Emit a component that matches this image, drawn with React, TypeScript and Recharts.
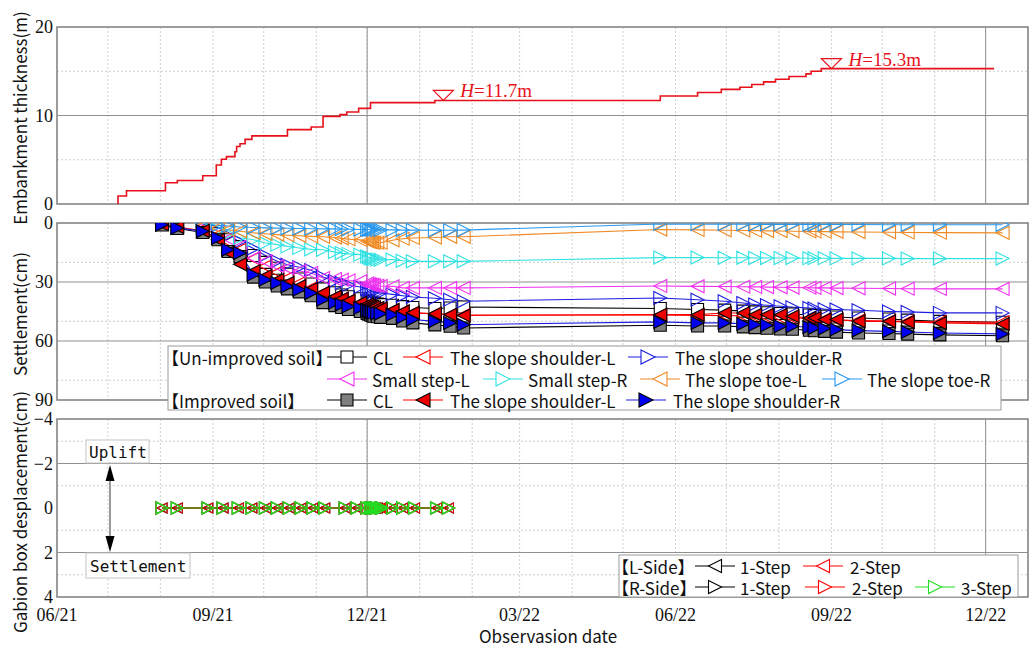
import React from "react";
import {
  LineChart,
  Line,
  XAxis,
  YAxis,
  CartesianGrid,
  ReferenceLine,
  ReferenceArea,
  ReferenceDot,
} from "recharts";

const ORIGIN = Date.UTC(2021, 5, 1);
const toDay = (s: string) => (Date.parse(s) - ORIGIN) / 86400000;
const X_MAX = 573;

const monthStarts = [
  "2021-07-01", "2021-08-01", "2021-09-01", "2021-10-01", "2021-11-01", "2021-12-01",
  "2022-01-01", "2022-02-01", "2022-03-01", "2022-04-01", "2022-05-01", "2022-06-01",
  "2022-07-01", "2022-08-01", "2022-09-01", "2022-10-01", "2022-11-01", "2022-12-01",
];
const yearLines = ["2021-12-01", "2022-12-01"];
const xTickDates = ["2021-06-01", "2021-09-01", "2021-12-01", "2022-03-01", "2022-06-01", "2022-09-01", "2022-12-01"];
const xTickLabels = ["06/21", "09/21", "12/21", "03/22", "06/22", "09/22", "12/22"];

// embankment thickness (m)
const fillDates = [
  "2021-07-07", "2021-07-07", "2021-07-12", "2021-08-04", "2021-08-11", "2021-08-26", "2021-09-03",
  "2021-09-06", "2021-09-09", "2021-09-14", "2021-09-15", "2021-09-17", "2021-09-20", "2021-09-24",
  "2021-10-15", "2021-10-29", "2021-11-05", "2021-11-15", "2021-11-19", "2021-11-26", "2021-12-03",
  "2022-01-10", "2022-05-23", "2022-06-14", "2022-06-28", "2022-07-09", "2022-07-16", "2022-07-23",
  "2022-07-30", "2022-08-07", "2022-08-17", "2022-08-20", "2022-08-26", "2022-12-06",
];
const fillHeights = [
  0, 0.9, 1.5, 2.4, 2.65, 3.2, 4.4, 5.05, 5.35, 5.9, 6.5, 6.8, 7.3, 7.7, 8.4, 8.7, 9.9, 10.1, 10.4,
  10.8, 11.45, 11.7, 12.2, 12.6, 12.95, 13.2, 13.5, 13.8, 14.1, 14.4, 14.7, 15.0, 15.3, 15.3,
];
const fillMarks = [
  { date: "2022-01-15", h: 11.7 },
  { date: "2022-09-01", h: 15.3 },
];

// settlement (cm)
const obsDates = [
  "2021-08-02", "2021-08-11", "2021-08-26", "2021-09-04", "2021-09-10", "2021-09-17", "2021-09-25",
  "2021-10-02", "2021-10-09", "2021-10-15", "2021-10-22", "2021-10-29", "2021-11-05", "2021-11-12",
  "2021-11-16", "2021-11-20", "2021-11-27", "2021-12-01", "2021-12-02", "2021-12-03", "2021-12-04",
  "2021-12-05", "2021-12-07", "2021-12-09", "2021-12-16", "2021-12-22", "2021-12-28", "2022-01-10",
  "2022-01-19", "2022-01-27",
  "2022-05-23", "2022-06-14", "2022-06-30", "2022-07-11", "2022-07-18", "2022-07-25", "2022-08-02",
  "2022-08-09", "2022-08-19", "2022-08-22", "2022-08-28", "2022-09-04", "2022-09-17", "2022-10-05",
  "2022-10-16", "2022-11-04", "2022-12-11",
];
const unCL = [
  null, null, 3, 5.5, 8.5, 12, 16.5, 20, 23, 26, 28.5, 31, 33.5, 35.5, 36.6, 37.5, 38.5, 39.5, 40, 40.3,
  40.6, 40.9, 41.2, 41.5, 41.8, 42.5, 43, 43.5, 43.2, 42.7,
  43.5, 44, 44.3, 44.8, 45.2, 45.6, 46, 46.3, 46.8, 47, 47.4, 47.8, 48.3, 48.8, 49.4, 50, 50.5,
];
const unShL = [
  null, null, 3, 6, 9.5, 13.5, 18, 22, 25, 28, 30.5, 33, 35.5, 37.5, 38.5, 39.5, 40.5, 41.5, 42, 42.4,
  42.8, 43.1, 43.4, 43.7, 44.3, 45, 45.6, 46.2, 46.6, 46.8,
  46.8, 47, 47, 47.2, 47.5, 47.7, 48, 48.2, 48.6, 48.8, 49, 49.3, 49.6, 49.9, 50.1, 50.3, 50.5,
];
const unShR = [
  null, null, 2, 4, 6.5, 9.5, 13, 16.5, 19.5, 21.2, 22.5, 24, 27.5, 29.5, 30.5, 31.5, 32.5, 33.5, 34,
  34.4, 34.8, 35.1, 35.4, 35.6, 36.3, 37, 37.6, 38.3, 39, 39.8,
  38.1, 39, 39.8, 40.7, 41.5, 41.8, 42.3, 42.8, 43.2, 43.5, 43.8, 44, 44.4, 45, 45.2, 45.7, 45.7,
];
const unStepL = [
  null, null, 2, 4.5, 8, 12, 17.8, 19.5, 21.9, 22.9, 24.4, 25.4, 28, 28.5, 28.8, 29.2, 29.6, 30.8, 31.1,
  31.3, 31.5, 31.7, 31.9, 32, 32.2, 33, 33, 33, 33, 33,
  32, 32.2, 32.3, 32.4, 32.5, 32.6, 32.7, 32.8, 32.9, 33, 33, 33.1, 33.2, 33.3, 33.4, 33.5, 33.5,
];
const unStepR = [
  null, null, 1.5, 3.5, 5.5, 7.5, 8.5, 10.2, 11, 11.9, 12.7, 13.4, 13.6, 14.8, 15.3, 15.7, 16.1, 17,
  17.4, 17.8, 18.1, 18.4, 18.6, 18.7, 18.6, 19.2, 19.5, 19.5, 19.5, 19.5,
  17.6, 17.6, 17.7, 17.7, 17.8, 17.8, 17.8, 17.8, 17.9, 17.9, 17.9, 18, 18, 18, 18.1, 18.1, 18.1,
];
const unToeL = [
  null, null, 1.5, 2.5, 3.5, 4.2, 5, 5.5, 5.9, 6.2, 6.5, 6.8, 7, 7.4, 7.8, 8.2, 8.6, 9.2, 9.5, 9.7, 9.9,
  10, 10, 10, 8.8, 8, 7.6, 7.4, 7, 7,
  3.3, 3.5, 3.7, 3.8, 3.9, 4, 4.1, 4.2, 4.3, 4.3, 4.4, 4.5, 4.6, 4.7, 4.8, 4.9, 5,
];
const unToeR = [
  null, null, 0.8, 1.2, 1.6, 2, 2.3, 2.5, 2.6, 2.7, 2.8, 2.9, 3, 3, 3.1, 3.2, 3.3, 3.3, 3.3, 3.4, 3.4,
  3.4, 3.5, 3.5, 3.5, 3.6, 3.6, 3.7, 3.7, 3.6,
  0.5, 0.6, 0.6, 0.6, 0.7, 0.7, 0.7, 0.7, 0.8, 0.8, 0.8, 0.8, 0.8, 0.9, 0.9, 0.9, 0.9,
];
const imCL = [
  1, 2.8, 4.8, 8.5, 14.5, 17, 27.5, 30, 32, 33.5, 35, 37, 40.5, 42, 43, 44, 45, 46, 46.4, 46.8, 47.1,
  47.4, 47.7, 48, 48.5, 49.8, 50.8, 51.8, 52.5, 53.4,
  52, 52.4, 52.4, 52.8, 53.2, 53.5, 53.9, 54, 54.5, 54.8, 55.1, 55.5, 55.9, 56.2, 56.5, 56.9, 57.3,
];
const imShL = [
  0.6, 2, 4, 8.5, 15, 21, 24.5, 27, 29, 30.5, 32, 33.5, 35.5, 37.5, 38.5, 39.5, 40.5, 41.5, 42, 42.3,
  42.6, 42.9, 43.2, 43.5, 44.2, 45, 45.6, 46.2, 46.7, 47,
  46.6, 46.6, 45.8, 45.8, 46.6, 46.6, 46.6, 47.4, 48.3, 48.3, 49.1, 49.1, 50, 50, 50.3, 50.8, 51.3,
];
const imShR = [
  0.9, 2.5, 4.2, 7.6, 13.6, 15.3, 26.3, 28.8, 30.5, 32.2, 33.9, 35.6, 39, 40.5, 41.5, 42.4, 43.2, 44.2,
  44.6, 45, 45.3, 45.6, 45.9, 46.2, 46.6, 48, 49.1, 50, 50.8, 51.7,
  50.3, 50.8, 50.8, 51.3, 51.7, 52, 52.5, 52.5, 53, 53.4, 53.7, 54.2, 54.7, 55.1, 55.4, 55.9, 56.4,
];

// gabion box displacement (cm)
const gabionDates = [
  "2021-08-02", "2021-08-11", "2021-08-29", "2021-09-07", "2021-09-16", "2021-09-24", "2021-10-02",
  "2021-10-09", "2021-10-16", "2021-10-23", "2021-10-30", "2021-11-06", "2021-11-18", "2021-11-25",
  "2021-12-01", "2021-12-03", "2021-12-04", "2021-12-05", "2021-12-06", "2021-12-07", "2021-12-09",
  "2021-12-10", "2021-12-16", "2021-12-22", "2021-12-29", "2022-01-11", "2022-01-18",
];
const gbL1 = [0, 0, 0, 0, 0, 0, 0, 0, 0, 0, 0, 0, 0, 0, 0, 0, 0, 0, 0, 0, 0, 0, 0, 0, 0, 0, 0];
const gbL2 = [0, 0, 0, 0, 0, 0, 0, 0, 0, 0, 0, 0, 0, 0, 0, 0, 0, 0, 0, 0, 0, 0, 0, 0, 0, 0, 0];
const gbR1 = [0, 0, 0, 0, 0, 0, 0, 0, 0, 0, 0, 0, 0, 0, 0, 0, 0, 0, 0, 0, 0, 0, 0, 0, 0, 0, 0];
const gbR2 = [0, 0, 0, 0, 0, 0, 0, 0, 0, 0, 0, 0, 0, 0, 0, 0, 0, 0, 0, 0, 0, 0, 0, 0, 0, 0, 0];
const gbR3 = [0, 0, 0, 0, 0, 0, 0, 0, 0, 0, 0, 0, 0, 0, 0, 0, 0, 0, 0, 0, 0, 0, 0, 0, 0, 0, 0];

type Kind = "sq" | "tl" | "tr";
type Series = {
  key: string;
  values: (number | null)[];
  line: string;
  kind: Kind;
  stroke: string;
  fill: string;
  size?: number;
  sw?: number;
};

const settlementSeries: Series[] = [
  { key: "unCL", values: unCL, line: "#000000", kind: "sq", stroke: "#000000", fill: "#ffffff" },
  { key: "unShL", values: unShL, line: "#ff0000", kind: "tl", stroke: "#ff0000", fill: "none" },
  { key: "unShR", values: unShR, line: "#1c1ce0", kind: "tr", stroke: "#1c1ce0", fill: "none" },
  { key: "unStepL", values: unStepL, line: "#f030f0", kind: "tl", stroke: "#f030f0", fill: "none" },
  { key: "unStepR", values: unStepR, line: "#30e2e2", kind: "tr", stroke: "#30e2e2", fill: "none" },
  { key: "unToeL", values: unToeL, line: "#f08a24", kind: "tl", stroke: "#f08a24", fill: "none" },
  { key: "unToeR", values: unToeR, line: "#2898ee", kind: "tr", stroke: "#2898ee", fill: "none" },
  { key: "imCL", values: imCL, line: "#000000", kind: "sq", stroke: "#000000", fill: "#7f7f7f" },
  { key: "imShL", values: imShL, line: "#ff0000", kind: "tl", stroke: "#000000", fill: "#ee0000" },
  { key: "imShR", values: imShR, line: "#1c1ce0", kind: "tr", stroke: "#000000", fill: "#0000ee" },
];

const gabionSeries: Series[] = [
  { key: "L1", values: gbL1, line: "#000000", kind: "tl", stroke: "#000000", fill: "none", size: 5 },
  { key: "R1", values: gbR1, line: "#000000", kind: "tr", stroke: "#000000", fill: "none", size: 6 },
  { key: "L2", values: gbL2, line: "#ff0000", kind: "tl", stroke: "#ff0000", fill: "none", size: 5, sw: 1 },
  { key: "R2", values: gbR2, line: "#ff0000", kind: "tr", stroke: "#ff0000", fill: "none", size: 6 },
  { key: "R3", values: gbR3, line: "#22dd22", kind: "tr", stroke: "#22dd22", fill: "none", size: 6, sw: 1.4 },
];

const fillRows = fillDates.map((d, i) => ({ day: toDay(d), h: fillHeights[i] }));
const settleRows = obsDates.map((d, i) => {
  const row: Record<string, number | null> = { day: toDay(d) };
  settlementSeries.forEach((s) => (row[s.key] = s.values[i]));
  return row;
});
const gabionRows = gabionDates.map((d, i) => {
  const row: Record<string, number | null> = { day: toDay(d) };
  gabionSeries.forEach((s) => (row[s.key] = s.values[i]));
  return row;
});

const monthDays = monthStarts.map(toDay);
const yearDays = yearLines.map(toDay);
const xTickDays = xTickDates.map(toDay);

const W = 1029;
const PAD = 12;
const MARGIN = { top: PAD, right: 1, bottom: PAD, left: 0 };
const GRID_MINOR = "#cfcfcf";
const GRID_MAJOR = "#8f8f8f";
const FRAME = "#7d7d7d";
const SERIF = "'Liberation Serif', 'Times New Roman', serif";
const SANS = "'Noto Sans CJK JP', 'Noto Sans', sans-serif";
const yTick = { fontSize: 18, fontFamily: SERIF, fill: "#111" };

const markerPath = (kind: Kind, cx: number, cy: number, h: number) => {
  if (kind === "sq") return `M${cx - h},${cy - h}H${cx + h}V${cy + h}H${cx - h}Z`;
  if (kind === "tl") return `M${cx + h},${cy - h}L${cx - h},${cy}L${cx + h},${cy + h}Z`;
  return `M${cx - h},${cy - h}L${cx + h},${cy}L${cx - h},${cy + h}Z`;
};

const makeDot = (s: Series, h: number) => (props: any) => {
  const { cx, cy, index, value } = props;
  if (cx == null || cy == null || value == null || Number.isNaN(cy)) {
    return <g key={`${s.key}-e${index}`} />;
  }
  const size = s.size ?? (s.kind === "sq" ? h - 0.5 : h);
  return (
    <path
      key={`${s.key}-m${index}`}
      d={markerPath(s.kind, cx, cy, size)}
      stroke={s.stroke}
      fill={s.fill}
      strokeWidth={s.sw ?? 1.1}
    />
  );
};

const FillMark = (props: any) => {
  const { cx, cy, payload } = props;
  return (
    <g>
      <path d={`M${cx - 10},${cy - 10}H${cx + 10}L${cx},${cy}Z`} fill="none" stroke="#e8101a" strokeWidth={1.2} />
      <text x={cx + 17} y={cy - 3} fill="#e8101a" fontFamily={SERIF} fontSize={19}>
        <tspan fontStyle="italic">H</tspan>={payload}m
      </text>
    </g>
  );
};

const commonGrid = (minorY: number[], majorY: number[]) => [
  <CartesianGrid
    key="g"
    stroke={GRID_MINOR}
    strokeDasharray="2 2"
    verticalValues={monthDays}
    horizontalValues={minorY}
  />,
  ...yearDays.map((d) => <ReferenceLine key={`vx${d}`} x={d} stroke={GRID_MAJOR} strokeWidth={1} />),
  ...majorY.map((v) => <ReferenceLine key={`hy${v}`} y={v} stroke={GRID_MAJOR} strokeWidth={1} />),
];

const legendMarker = (s: Series, mx: number, y: number, h = 7) => (
  <g key={`lm-${s.key}`}>
    <line x1={mx - 20} x2={mx + 20} y1={y} y2={y} stroke={s.line} strokeWidth={1.2} />
    <path d={markerPath(s.kind, mx, y, s.kind === "sq" ? h - 1 : h)} stroke={s.stroke} fill={s.fill === "none" ? "#fff" : s.fill} strokeWidth={1.1} />
  </g>
);

const byKey = (list: Series[], k: string) => list.find((s) => s.key === k) as Series;

const settleLegend = [
  { key: "unCL", label: "CL", mx: 347, tx: 373, y: 357 },
  { key: "unShL", label: "The slope shoulder-L", mx: 423, tx: 450, y: 357 },
  { key: "unShR", label: "The slope shoulder-R", mx: 648, tx: 675, y: 357 },
  { key: "unStepL", label: "Small step-L", mx: 347, tx: 372, y: 379 },
  { key: "unStepR", label: "Small step-R", mx: 503, tx: 528, y: 379 },
  { key: "unToeL", label: "The slope toe-L", mx: 660, tx: 685, y: 379 },
  { key: "unToeR", label: "The slope toe-R", mx: 842, tx: 867, y: 379 },
  { key: "imCL", label: "CL", mx: 347, tx: 373, y: 400 },
  { key: "imShL", label: "The slope shoulder-L", mx: 423, tx: 450, y: 400 },
  { key: "imShR", label: "The slope shoulder-R", mx: 646, tx: 673, y: 400 },
];
const gabionLegend = [
  { key: "L1", label: "1-Step", mx: 715, tx: 740, y: 566 },
  { key: "L2", label: "2-Step", mx: 823, tx: 850, y: 566 },
  { key: "R1", label: "1-Step", mx: 715, tx: 740, y: 587 },
  { key: "R2", label: "2-Step", mx: 825, tx: 852, y: 587 },
  { key: "R3", label: "3-Step", mx: 935, tx: 961, y: 587 },
];

export default function App() {
  return (
    <div style={{ position: "absolute", left: 0, top: 0, width: W, height: 646, background: "#fff", overflow: "hidden" }}>
      {/* embankment thickness */}
      <div style={{ position: "absolute", left: 0, top: 27 - PAD }}>
        <LineChart width={W} height={177 + 2 * PAD} margin={MARGIN} data={fillRows}>
          {commonGrid([5, 15], [10])}
          <XAxis type="number" dataKey="day" domain={[0, X_MAX]} hide allowDataOverflow />
          <YAxis
            type="number"
            domain={[0, 20]}
            ticks={[0, 10, 20]}
            width={57}
            tickLine={false}
            axisLine={false}
            tickSize={0}
            tickMargin={4}
            tick={yTick}
            allowDataOverflow
          />
          <Line type="stepAfter" dataKey="h" stroke="#e8101a" strokeWidth={1.6} dot={false} isAnimationActive={false} />
          <ReferenceArea x1={0} x2={X_MAX} y1={0} y2={20} fill="none" stroke={FRAME} strokeWidth={1.5} />
          {fillMarks.map((m) => (
            <ReferenceDot
              key={m.date}
              x={toDay(m.date)}
              y={m.h}
              ifOverflow="visible"
              shape={(p: any) => <FillMark {...p} payload={m.h} />}
            />
          ))}
        </LineChart>
      </div>

      {/* settlement */}
      <div style={{ position: "absolute", left: 0, top: 223 - PAD }}>
        <LineChart width={W} height={177 + 2 * PAD} margin={MARGIN} data={settleRows}>
          {commonGrid([10, 20, 40, 50, 70, 80], [30, 60])}
          <XAxis type="number" dataKey="day" domain={[0, X_MAX]} hide allowDataOverflow />
          <YAxis
            type="number"
            domain={[0, 90]}
            reversed
            ticks={[0, 30, 60, 90]}
            width={57}
            tickLine={false}
            axisLine={false}
            tickSize={0}
            tickMargin={4}
            tick={yTick}
            allowDataOverflow
          />
          {settlementSeries.map((s) => (
            <Line
              key={s.key}
              type="linear"
              dataKey={s.key}
              stroke={s.line}
              strokeWidth={1.1}
              dot={makeDot(s, 6.5)}
              activeDot={false}
              isAnimationActive={false}
            />
          ))}
          <ReferenceArea x1={0} x2={X_MAX} y1={0} y2={90} fill="none" stroke={FRAME} strokeWidth={1.5} />
        </LineChart>
      </div>

      {/* gabion box displacement */}
      <div style={{ position: "absolute", left: 0, top: 419 - PAD }}>
        <LineChart width={W} height={178 + PAD + 30} margin={{ ...MARGIN, bottom: 0 }} data={gabionRows}>
          {commonGrid([-3, -1, 0, 1, 3], [-2, 2])}
          <XAxis
            type="number"
            dataKey="day"
            domain={[0, X_MAX]}
            ticks={xTickDays}
            interval={0}
            tickFormatter={(v: number) => xTickLabels[xTickDays.indexOf(v)] ?? ""}
            tickLine={false}
            axisLine={false}
            tickSize={0}
            tickMargin={11}
            height={30}
            tick={{ fontSize: 18, fontFamily: SERIF, fill: "#111" }}
            allowDataOverflow
          />
          <YAxis
            type="number"
            domain={[-4, 4]}
            reversed
            ticks={[-4, -2, 0, 2, 4]}
            tickFormatter={(v: number) => String(v).replace("-", "\u2212")}
            width={57}
            tickLine={false}
            axisLine={false}
            tickSize={0}
            tickMargin={4}
            tick={yTick}
            allowDataOverflow
          />
          {gabionSeries.map((s) => (
            <Line
              key={s.key}
              type="linear"
              dataKey={s.key}
              stroke={s.line}
              strokeWidth={1.2}
              dot={makeDot(s, 6)}
              activeDot={false}
              isAnimationActive={false}
            />
          ))}
          <ReferenceArea x1={0} x2={X_MAX} y1={-4} y2={4} fill="none" stroke={FRAME} strokeWidth={1.5} />
        </LineChart>
      </div>

      {/* titles, annotations, legends */}
      <svg width={W} height={646} style={{ position: "absolute", left: 0, top: 0, pointerEvents: "none" }}>
        <g fontFamily={SANS} fontSize={17} fill="#111" textAnchor="middle" dominantBaseline="central">
          <text transform="translate(19,118) rotate(-90)">Embankment thickness(m)</text>
          <text transform="translate(19,314) rotate(-90)">Settlement(cm)</text>
          <text transform="translate(19,512) rotate(-90)">Gabion box desplacement(cm)</text>
          <text x={548} y={635}>Observasion date</text>
        </g>

        {/* uplift / settlement arrow */}
        <rect x={86} y={440} width={63} height={23} fill="#fff" stroke="#c4c4c4" />
        <text x={89} y={452} fontFamily="'DejaVu Sans Mono', monospace" fontSize={16} dominantBaseline="central" fill="#111">Uplift</text>
        <rect x={86} y={553} width={104} height={25} fill="#fff" stroke="#c4c4c4" />
        <text x={90} y={566} fontFamily="'DejaVu Sans Mono', monospace" fontSize={16} dominantBaseline="central" fill="#111">Settlement</text>
        <line x1={110} x2={110} y1={478} y2={538} stroke="#9a9a9a" strokeWidth={2} />
        <path d="M110,465L114.5,481H105.5Z" fill="#000" />
        <path d="M110,552L114.5,536H105.5Z" fill="#000" />

        {/* settlement legend */}
        <rect x={168} y={346} width={833} height={64} fill="#fff" stroke="#9a9a9a" />
        <g fontFamily={SANS} fontSize={17} fill="#111" dominantBaseline="central">
          <text x={162} y={357}>【Un-improved soil】</text>
          <text x={162} y={400}>【Improved soil】</text>
          {settleLegend.map((e) => (
            <g key={`sl-${e.key}`}>
              {legendMarker(byKey(settlementSeries, e.key), e.mx, e.y)}
              <text x={e.tx} y={e.y}>{e.label}</text>
            </g>
          ))}
        </g>

        {/* gabion legend */}
        <rect x={619} y={555} width={399} height={42} fill="#fff" stroke="#9a9a9a" />
        <g fontFamily={SANS} fontSize={17} fill="#111" dominantBaseline="central">
          <text x={612} y={566}>【L-Side】</text>
          <text x={612} y={587}>【R-Side】</text>
          {gabionLegend.map((e) => (
            <g key={`gl-${e.key}`}>
              {legendMarker(byKey(gabionSeries, e.key), e.mx, e.y, 6.5)}
              <text x={e.tx} y={e.y}>{e.label}</text>
            </g>
          ))}
        </g>
      </svg>
    </div>
  );
}
